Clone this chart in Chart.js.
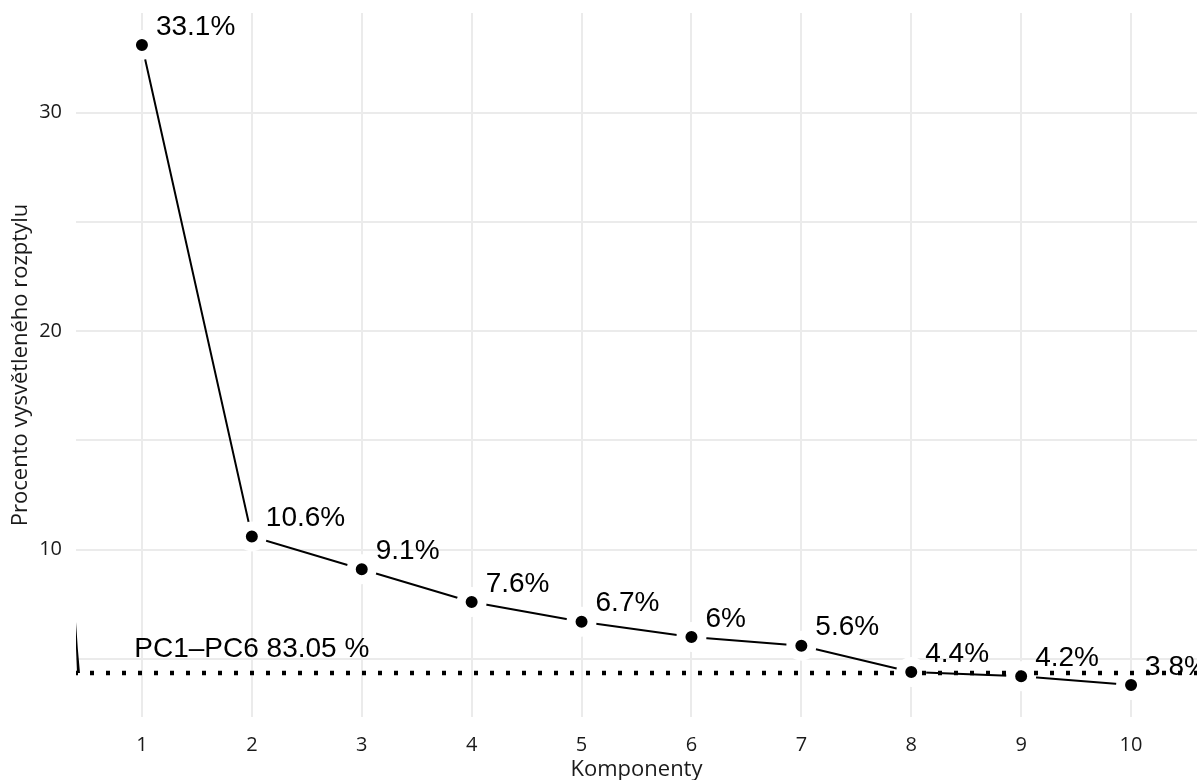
<!DOCTYPE html>
<html>
<head>
<meta charset="utf-8">
<script src="https://cdn.jsdelivr.net/npm/chart.js@4.4.1/dist/chart.umd.min.js"></script>
<style>
  html, body { margin: 0; padding: 0; background: #fff; }
  canvas { display: block; }
</style>
</head>
<body>
<canvas id="scree" width="1197" height="780"></canvas>
<script>
const komponenty = [1, 2, 3, 4, 5, 6, 7, 8, 9, 10];
const procenta = [33.1, 10.6, 9.1, 7.6, 6.7, 6.0, 5.6, 4.4, 4.2, 3.8];
const popisky = ["33.1%", "10.6%", "9.1%", "7.6%", "6.7%", "6%", "5.6%", "4.4%", "4.2%", "3.8%"];
const hranice = 4.35;
const hraniceText = "PC1–PC6 83.05 %";
const yTicks = [5, 10, 15, 20, 25, 30];
const yPopisky = [10, 20, 30];

const xMin = 0.4, xMax = 10.6;
const yMin = 2.335, yMax = 34.565;

// text labels next to the points + the threshold note
const popiskyPlugin = {
  id: "popisky",
  afterDatasetsDraw(chart) {
    const ctx = chart.ctx;
    const sx = chart.scales.x;
    const sy = chart.scales.y;
    ctx.save();
    ctx.fillStyle = "#000";
    ctx.font = "28px 'Liberation Sans', Arial, sans-serif";
    ctx.textBaseline = "middle";
    ctx.textAlign = "left";
    komponenty.forEach((k, i) => {
      ctx.fillText(popisky[i], sx.getPixelForValue(k) + 14, sy.getPixelForValue(procenta[i]) - 18);
    });

    const hy = sy.getPixelForValue(hranice);
    ctx.textAlign = "center";
    ctx.fillText(hraniceText, sx.getPixelForValue(2), hy - 24);

    // little black wedge at the left edge
    const left = chart.chartArea.left;
    ctx.beginPath();
    ctx.moveTo(left, hy - 51);
    ctx.quadraticCurveTo(left + 1.5, hy - 25, left + 4, hy);
    ctx.lineTo(left + 1, hy);
    ctx.quadraticCurveTo(left - 0.5, hy - 25, left, hy - 51);
    ctx.fill();
    ctx.restore();
  }
};

const ctx = document.getElementById("scree").getContext("2d");
const scree = new Chart(ctx, {
  type: "line",
  data: {
    datasets: [
      {
        // dotted threshold
        data: [{ x: xMin, y: hranice }, { x: xMax, y: hranice }],
        borderColor: "#000",
        borderWidth: 4.5,
        borderDash: [4, 12],
        borderDashOffset: 2,
        borderCapStyle: "butt",
        pointRadius: 0,
        order: 0,
      },
      {
        data: komponenty.map((k, i) => ({ x: k, y: procenta[i] })),
        borderColor: "#000",
        borderWidth: 2,
        pointRadius: 10.5,
        pointBackgroundColor: "#000",
        pointBorderColor: "#fff",
        pointBorderWidth: 9,
        order: 1,
      },
    ],
  },
  options: {
    responsive: false,
    animation: false,
    events: [],
    layout: { autoPadding: false, padding: { top: 13, right: 0, left: 0, bottom: 0 } },
    plugins: {
      legend: { display: false },
      tooltip: { enabled: false },
    },
    scales: {
      x: {
        type: "linear",
        min: xMin,
        max: xMax,
        afterBuildTicks: (axis) => {
          axis.ticks = komponenty.map((v) => ({ value: v }));
        },
        afterFit: (axis) => {
          axis.height = 63;
          axis.paddingLeft = 0;
          axis.paddingRight = 0;
        },
        grid: { color: "#ebebeb", lineWidth: 2, drawTicks: false },
        border: { display: false },
        ticks: {
          font: { family: "'Open Sans'", size: 20 },
          color: "#1a1a1a",
          padding: 16,
          maxRotation: 0,
          autoSkip: false,
        },
        title: {
          display: true,
          text: "Komponenty",
          font: { family: "'Open Sans'", size: 22 },
          color: "#1a1a1a",
          padding: { top: 0, bottom: -3 },
        },
      },
      y: {
        type: "linear",
        min: yMin,
        max: yMax,
        afterBuildTicks: (axis) => {
          axis.ticks = yTicks.map((v) => ({ value: v }));
        },
        afterFit: (axis) => {
          axis.width = 76;
          axis.paddingTop = 0;
          axis.paddingBottom = 0;
        },
        grid: { color: "#ebebeb", lineWidth: 2, drawTicks: false },
        border: { display: false },
        ticks: {
          font: { family: "'Open Sans'", size: 20 },
          color: "#1a1a1a",
          padding: 14,
          callback: (v) => (yPopisky.includes(v) ? String(v) : ""),
        },
        title: {
          display: true,
          text: "Procento vysvětleného rozptylu",
          font: { family: "'Open Sans'", size: 22 },
          color: "#1a1a1a",
          padding: { top: 8, bottom: 0 },
        },
      },
    },
  },
  plugins: [popiskyPlugin],
});
</script>
</body>
</html>
